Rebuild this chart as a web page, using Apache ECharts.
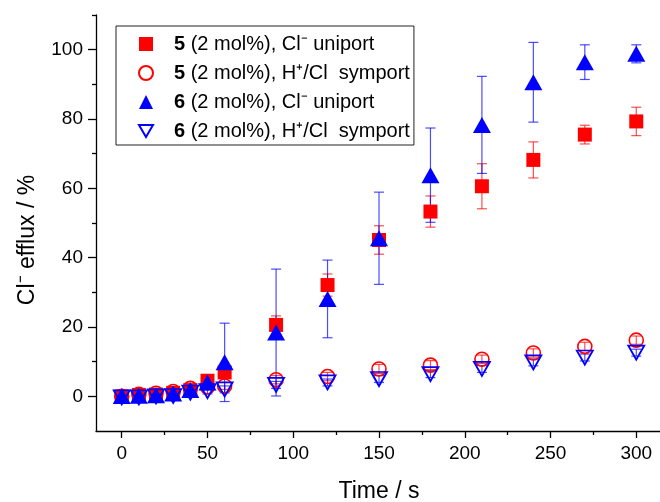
<!DOCTYPE html>
<html>
<head>
<meta charset="utf-8">
<script src="https://cdn.jsdelivr.net/npm/echarts@6/dist/echarts.min.js"></script>
<style>
html,body{margin:0;padding:0;background:#fff;}
#chart{width:660px;height:502px;}
</style>
</head>
<body>
<div id="chart"></div>
<script>
// ---- data ----
const times = [0, 10, 20, 30, 40, 50, 60, 90, 120, 150, 180, 210, 240, 270, 300];

const cmpd5Uniport    = [0, 0.4, 0.5, 1.0, 1.8, 4.5, 6.9, 20.6, 32.1, 45.1, 53.3, 60.6, 68.2, 75.5, 79.3];
const cmpd5UniportErr = [0.5, 0.5, 0.5, 0.8, 1.0, 1.5, 1.5, 2.6, 3.2, 4.1, 4.5, 6.5, 5.2, 2.7, 4.1];

const cmpd5Symport    = [0, 0.6, 0.9, 1.4, 2.3, 2.7, 3.0, 4.8, 5.7, 7.9, 9.0, 10.7, 12.5, 14.4, 16.2];
const cmpd5SymportErr = [0.5, 0.5, 0.6, 0.6, 0.8, 0.8, 1.0, 1.2, 1.2, 1.3, 1.3, 1.2, 1.2, 1.2, 1.2];

const cmpd6Uniport    = [0.1, 0.2, 0.3, 0.8, 1.8, 4.0, 9.8, 18.4, 28.1, 45.6, 63.8, 78.3, 90.6, 96.4, 98.8];
const cmpd6UniportErr = [0.5, 0.5, 0.5, 0.8, 1.0, 2.1, 11.3, 18.3, 11.2, 13.3, 13.6, 14.0, 11.5, 5.0, 2.6];

const cmpd6Symport    = [-0.3, -0.3, 0, 0.1, 1.1, 1.5, 2.0, 3.3, 4.0, 5.0, 6.4, 7.9, 9.8, 11.2, 12.6];
const cmpd6SymportErr = [0.5, 0.5, 0.6, 0.6, 0.8, 0.8, 1.0, 1.0, 1.0, 1.0, 1.0, 1.0, 1.0, 1.0, 1.0];

const xMajorTicks = [0, 50, 100, 150, 200, 250, 300];
const xMinorTicks = [25, 75, 125, 175, 225, 275];
const yMajorTicks = [0, 20, 40, 60, 80, 100];
const yMinorTicks = [10, 30, 50, 70, 90, 110];

const legendNames = ['5u', '5s', '6u', '6s'];
const legendLabels = {
  '5u': '{s|}{b|5} (2 mol%), Cl\u207B uniport',
  '5s': '{s|}{b|5} (2 mol%), H\u207A/Cl  symport',
  '6u': '{s|}{b|6} (2 mol%), Cl\u207B uniport',
  '6s': '{s|}{b|6} (2 mol%), H\u207A/Cl  symport'
};

// ---- chart ----
const FONT = 'Liberation Sans, Arial, sans-serif';
const RED = '#ff0000';
const BLUE = '#0000ff';
const INV_TRI = 'path://M0,0 L10,0 L5,8.7 Z';

function errorSeries(vals, errs, color) {
  return {
    type: 'custom',
    silent: true,
    data: times.map((t, i) => [t, vals[i] - errs[i], vals[i] + errs[i]]),
    encode: { x: 0, y: [1, 2] },
    renderItem: function (params, api) {
      const x = api.value(0);
      const lo = api.coord([x, api.value(1)]);
      const hi = api.coord([x, api.value(2)]);
      const w = 5;
      const st = { stroke: color, lineWidth: 1.2, opacity: 0.7 };
      return {
        type: 'group',
        children: [
          { type: 'line', shape: { x1: lo[0], y1: lo[1], x2: hi[0], y2: hi[1] }, style: st },
          { type: 'line', shape: { x1: lo[0] - w, y1: lo[1], x2: lo[0] + w, y2: lo[1] }, style: st },
          { type: 'line', shape: { x1: hi[0] - w, y1: hi[1], x2: hi[0] + w, y2: hi[1] }, style: st }
        ]
      };
    }
  };
}

function pts(vals) { return times.map((t, i) => [t, vals[i]]); }

const chart = echarts.init(document.getElementById('chart'), null, { renderer: 'canvas' });
chart.setOption({
  animation: false,
  backgroundColor: '#fff',
  grid: { left: 96, right: -2, top: 15, bottom: 71, containLabel: false, outerBoundsMode: 'none' },
  xAxis: [{
    type: 'value', min: -15, max: 315,
    axisLine: { onZero: false, lineStyle: { color: '#000', width: 1.3 } },
    axisTick: { customValues: xMajorTicks, length: 7, lineStyle: { color: '#000', width: 1.3 } },
    axisLabel: { customValues: xMajorTicks, fontSize: 19, color: '#000', fontFamily: FONT, margin: 13 },
    splitLine: { show: false },
    name: 'Time / s', nameLocation: 'middle', nameGap: 49,
    nameTextStyle: { fontSize: 23, color: '#000', fontFamily: FONT }
  }, {
    type: 'value', min: -15, max: 315, position: 'bottom',
    axisLine: { show: false, onZero: false },
    axisTick: { customValues: xMinorTicks, length: 4, lineStyle: { color: '#000', width: 1.3 } },
    axisLabel: { show: false },
    splitLine: { show: false }
  }],
  yAxis: [{
    type: 'value', min: -10, max: 110,
    axisLine: { show: true, onZero: false, lineStyle: { color: '#000', width: 1.3 } },
    axisTick: { show: true, customValues: yMajorTicks, length: 8, lineStyle: { color: '#000', width: 1.3 } },
    axisLabel: { customValues: yMajorTicks, fontSize: 19, color: '#000', fontFamily: FONT, margin: 13 },
    splitLine: { show: false }
  }, {
    type: 'value', min: -10, max: 110, position: 'left',
    axisLine: { show: false, onZero: false },
    axisTick: { show: true, customValues: yMinorTicks, length: 4, lineStyle: { color: '#000', width: 1.3 } },
    axisLabel: { show: false },
    splitLine: { show: false }
  }],
  graphic: [{
    type: 'text', x: 28, y: 240, rotation: Math.PI / 2,
    style: { text: 'Cl\u207B efflux / %', font: '23px ' + FONT, fill: '#000', align: 'center', verticalAlign: 'middle' }
  }],
  legend: {
    orient: 'vertical', left: 116, top: 26,
    padding: [7, 4, 3, 22],
    itemGap: 7, itemWidth: 14, itemHeight: 14,
    borderColor: '#222', borderWidth: 1, backgroundColor: '#fff',
    data: legendNames,
    formatter: function (name) { return legendLabels[name]; },
    textStyle: {
      fontSize: 20, color: '#000', fontFamily: FONT, lineHeight: 22,
      rich: {
        s: { width: 16, lineHeight: 22 },
        b: { fontWeight: 'bold', fontSize: 20, fontFamily: FONT, lineHeight: 22 }
      }
    }
  },
  series: [
    errorSeries(cmpd5Uniport, cmpd5UniportErr, RED),
    errorSeries(cmpd5Symport, cmpd5SymportErr, RED),
    errorSeries(cmpd6Uniport, cmpd6UniportErr, BLUE),
    errorSeries(cmpd6Symport, cmpd6SymportErr, BLUE),
    {
      name: '5u', type: 'scatter', data: pts(cmpd5Uniport),
      symbol: 'rect', symbolSize: 14,
      itemStyle: { color: RED, opacity: 1 }
    },
    {
      name: '5s', type: 'scatter', data: pts(cmpd5Symport),
      symbol: 'circle', symbolSize: 14,
      itemStyle: { color: 'rgba(255,255,255,0)', borderColor: RED, borderWidth: 1.6, opacity: 1 }
    },
    {
      name: '6u', type: 'scatter', data: pts(cmpd6Uniport),
      symbol: 'triangle', symbolSize: [18, 16],
      itemStyle: { color: BLUE, opacity: 1 }
    },
    {
      name: '6s', type: 'scatter', data: pts(cmpd6Symport),
      symbol: INV_TRI, symbolSize: [16, 14],
      itemStyle: { color: 'rgba(255,255,255,0)', borderColor: BLUE, borderWidth: 1.8, opacity: 1 }
    }
  ]
});
</script>
</body>
</html>
